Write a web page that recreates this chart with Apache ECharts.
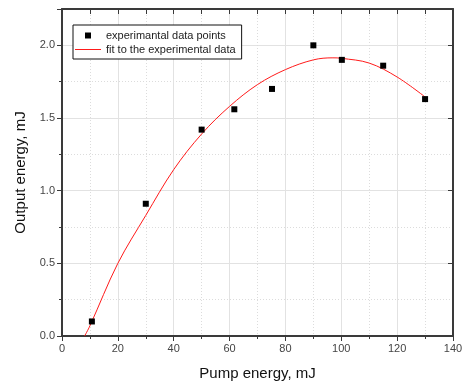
<!DOCTYPE html>
<html><head><meta charset="utf-8">
<script src="https://cdn.jsdelivr.net/npm/echarts@6/dist/echarts.min.js"></script>
<style>html,body{margin:0;padding:0;background:#fff}#c{width:466px;height:386px}</style>
</head><body><div id="c"></div>
<script>
// experimental data points
var pumpEnergy = [10.7, 30, 50, 61.7, 75.2, 90, 100.2, 115, 130];
var outputEnergy = [0.10, 0.91, 1.42, 1.56, 1.70, 2.00, 1.90, 1.86, 1.63];
// fit curve
var fitX = [8.1, 10, 20, 30, 40, 50, 60, 70, 80, 90, 97, 100, 110, 120, 130];
var fitY = [0.00, 0.07, 0.50, 0.83, 1.145, 1.39, 1.58, 1.73, 1.833, 1.90, 1.914, 1.911, 1.878, 1.782, 1.645];
var seriesNames = ['experimantal data points', 'fit to the experimental data'];
var xTitle = 'Pump energy, mJ';
var yTitle = 'Output energy, mJ';

var pts = pumpEnergy.map(function(x, i){ return [x, outputEnergy[i]]; });
var fit = fitX.map(function(x, i){ return [x, fitY[i]]; });
var FONT = 'Liberation Sans';
var axisCol = '#3a3a3a';
var RED = '#ff1a1a';

var chart = echarts.init(document.getElementById('c'), null, {renderer: 'canvas'});
chart.setOption({
  animation: false,
  backgroundColor: '#fff',
  color: ['#000', RED],
  textStyle: {fontFamily: FONT},
  grid: {left: 62, right: 13, top: 9, bottom: 50, containLabel: false},
  legend: {
    show: true, orient: 'vertical', left: 73, top: 25, width: 168,
    padding: [5, 6, 4, 2], itemGap: 3, itemWidth: 26, itemHeight: 10,
    backgroundColor: '#fff', borderColor: '#111', borderWidth: 1, borderRadius: 0,
    textStyle: {fontFamily: FONT, fontSize: 11, color: '#222'},
    data: [
      {name: seriesNames[0], icon: 'path://M0,0M26,10M10,2h6v6h-6z', itemStyle: {color: '#000'}},
      {name: seriesNames[1], icon: 'path://M0,0M26,10M0,4.5h26v1h-26z',
       itemStyle: {color: RED, opacity: 1}, lineStyle: {color: RED, width: 1}}
    ],
    z: 20
  },
  xAxis: [{
    type: 'value', min: 0, max: 140, interval: 20, position: 'bottom',
    name: xTitle, nameLocation: 'middle', nameGap: 30,
    nameTextStyle: {fontFamily: FONT, fontSize: 15, color: '#111'},
    axisLine: {show: true, onZero: false, lineStyle: {color: axisCol, width: 2}},
    axisTick: {show: true, inside: false, length: 5, lineStyle: {color: axisCol, width: 1}},
    minorTick: {show: true, splitNumber: 2, length: 3, lineStyle: {color: axisCol, width: 1}},
    axisLabel: {fontFamily: FONT, fontSize: 11, color: '#444', margin: 7},
    splitLine: {show: true, lineStyle: {color: '#e2e2e2', width: 1}},
    minorSplitLine: {show: true, lineStyle: {color: '#dcdcdc', width: 1, type: [1, 2]}}
  }, {
    type: 'value', min: 0, max: 140, interval: 20, position: 'top',
    axisLine: {show: true, onZero: false, lineStyle: {color: axisCol, width: 2}},
    axisTick: {show: true, inside: true, length: 5, lineStyle: {color: axisCol, width: 1}},
    minorTick: {show: true, splitNumber: 2, length: 5, lineStyle: {color: axisCol, width: 1}},
    axisLabel: {show: false}, splitLine: {show: false}
  }],
  yAxis: [{
    type: 'value', min: 0, max: 2.25, interval: 0.5, position: 'left',
    name: yTitle, nameLocation: 'middle', nameGap: 32, nameRotate: 90,
    nameTextStyle: {fontFamily: FONT, fontSize: 15, color: '#111'},
    axisLine: {show: true, onZero: false, lineStyle: {color: axisCol, width: 2}},
    axisTick: {show: true, inside: false, length: 5, lineStyle: {color: axisCol, width: 1}},
    minorTick: {show: true, splitNumber: 2, length: 3, lineStyle: {color: axisCol, width: 1}},
    axisLabel: {fontFamily: FONT, fontSize: 11, color: '#444', margin: 7, showMaxLabel: false,
      formatter: function(v){ return v.toFixed(1); }},
    splitLine: {show: true, lineStyle: {color: '#e2e2e2', width: 1}},
    minorSplitLine: {show: true, lineStyle: {color: '#dcdcdc', width: 1, type: [1, 2]}}
  }, {
    type: 'value', min: 0, max: 2.25, interval: 0.5, position: 'right',
    axisLine: {show: true, onZero: false, lineStyle: {color: axisCol, width: 2}},
    axisTick: {show: true, inside: true, length: 5, lineStyle: {color: axisCol, width: 1}},
    minorTick: {show: false},
    axisLabel: {show: false}, splitLine: {show: false}
  }],
  series: [{
    name: seriesNames[0], type: 'scatter', data: pts, symbol: 'rect', symbolSize: 6,
    itemStyle: {color: '#000', opacity: 1}, z: 4
  }, {
    name: seriesNames[1], type: 'line', data: fit, showSymbol: false, symbol: 'none', smooth: 0.35,
    color: RED, lineStyle: {color: RED, width: 1}, itemStyle: {color: RED}, z: 3
  }]
});
</script></body></html>
